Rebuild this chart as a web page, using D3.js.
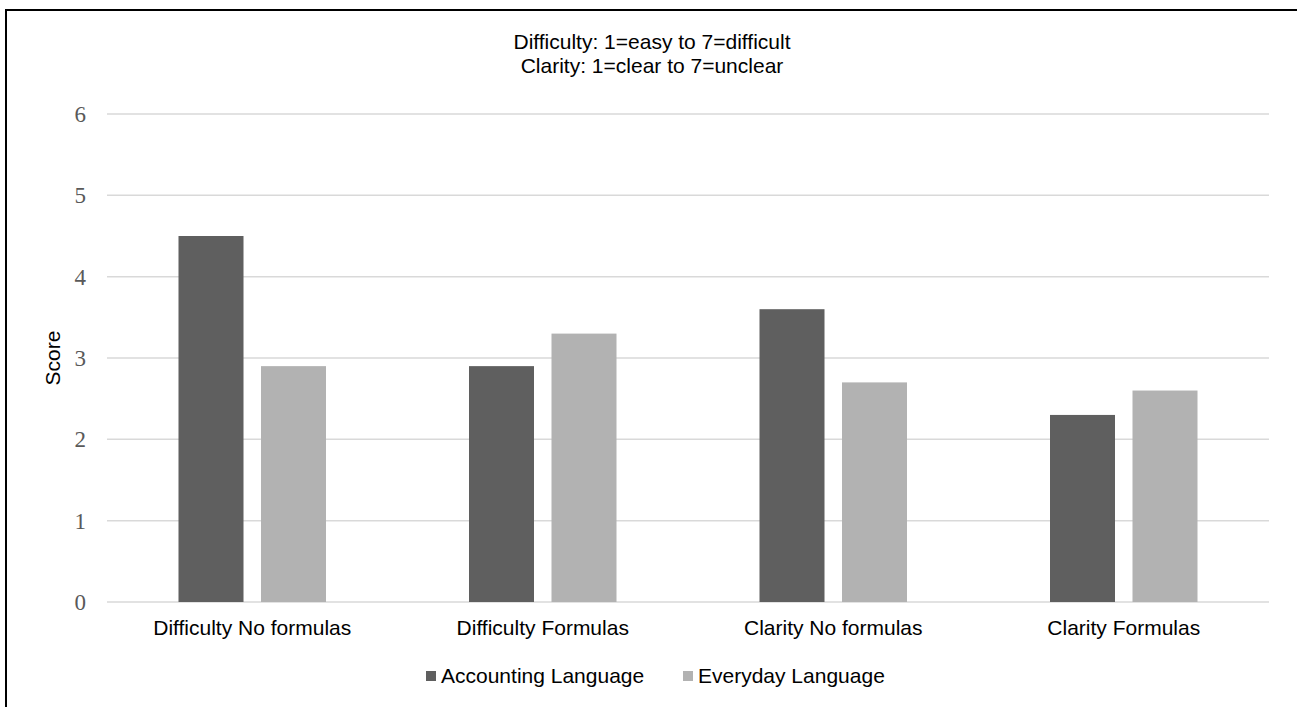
<!DOCTYPE html>
<meta charset="utf-8">
<head>
    <style>
        body { margin: 0; background: #fff; }
        svg { display: block; }
    </style>
    <script src="https://cdn.jsdelivr.net/npm/d3@7"></script>
</head>
<body></body>
<script>

    var categories = ["Difficulty No formulas", "Difficulty Formulas", "Clarity No formulas", "Clarity Formulas"],
        seriesNames = ["Accounting Language", "Everyday Language"],
        accounting = [4.5, 2.9, 3.6, 2.3],
        everyday = [2.9, 3.3, 2.7, 2.6],
        yTicks = [0, 1, 2, 3, 4, 5, 6],
        titleLines = ["Difficulty: 1=easy to 7=difficult", "Clarity: 1=clear to 7=unclear"],
        colors = ["#5f5f5f", "#b2b2b2"];

    var width = 1297, height = 707,
        sans = "'Liberation Sans', Arial, sans-serif";

    var svg = d3.select("body").append("svg")
        .attr("width", width)
        .attr("height", height);

    // frame (only top and left edges show in the picture)
    svg.append("path")
        .attr("d", "M6," + height + "V10H" + width)
        .attr("fill", "none")
        .attr("stroke", "#000")
        .attr("stroke-width", 2);

    var x0 = d3.scaleBand().domain(categories).range([107, 1269]),
        y = d3.scaleLinear().domain([0, 6]).range([602, 114]);

    // bar width and gap inside each band
    var barW = 65, gap = 17.5;

    // gridlines
    svg.selectAll("line.grid")
      .data(yTicks)
        .enter().append("line")
        .attr("class", "grid")
        .attr("x1", x0.range()[0])
        .attr("x2", x0.range()[1])
        .attr("y1", function(d) { return y(d); })
        .attr("y2", function(d) { return y(d); })
        .attr("stroke", "#d9d9d9")
        .attr("stroke-width", 1.5);

    // y tick labels
    svg.selectAll("text.ytick")
      .data(yTicks)
        .enter().append("text")
        .attr("class", "ytick")
        .attr("x", 86)
        .attr("y", function(d) { return y(d); })
        .attr("dy", "0.35em")
        .attr("text-anchor", "end")
        .style("font-family", "'Liberation Serif', 'DejaVu Serif', serif")
        .style("font-size", "23px")
        .style("fill", "#595959")
        .text(function(d) { return d; });

    // bars
    var rows = categories.map(function(c, i) { return {cat: c, vals: [accounting[i], everyday[i]]}; });

    var groups = svg.selectAll("g.group")
      .data(rows)
        .enter().append("g")
        .attr("class", "group")
        .attr("transform", function(d) { return "translate(" + (x0(d.cat) + x0.bandwidth() / 2) + ",0)"; });

    groups.selectAll("rect")
      .data(function(d) { return d.vals; })
        .enter().append("rect")
        .attr("x", function(d, i) { return i === 0 ? -gap / 2 - barW : gap / 2; })
        .attr("width", barW)
        .attr("y", function(d) { return y(d); })
        .attr("height", function(d) { return y(0) - y(d); })
        .attr("fill", function(d, i) { return colors[i]; });

    // category labels
    svg.selectAll("text.xlab")
      .data(categories)
        .enter().append("text")
        .attr("class", "xlab")
        .attr("x", function(d) { return x0(d) + x0.bandwidth() / 2; })
        .attr("y", 635)
        .attr("text-anchor", "middle")
        .style("font-family", sans)
        .style("font-size", "21px")
        .style("fill", "#000")
        .text(function(d) { return d; });

    // title
    svg.selectAll("text.title")
      .data(titleLines)
        .enter().append("text")
        .attr("class", "title")
        .attr("x", 652)
        .attr("y", function(d, i) { return 49 + i * 24; })
        .attr("text-anchor", "middle")
        .style("font-family", sans)
        .style("font-size", "21px")
        .style("fill", "#000")
        .text(function(d) { return d; });

    // y axis title
    svg.append("text")
        .attr("transform", "translate(60,358) rotate(-90)")
        .attr("text-anchor", "middle")
        .style("font-family", sans)
        .style("font-size", "21px")
        .style("fill", "#000")
        .text("Score");

    // legend
    var legendX = [426, 683];
    var legend = svg.selectAll("g.legend")
      .data(seriesNames)
        .enter().append("g")
        .attr("class", "legend")
        .attr("transform", function(d, i) { return "translate(" + legendX[i] + ",683)"; });

    legend.append("rect")
        .attr("x", 0)
        .attr("y", -12)
        .attr("width", 10)
        .attr("height", 10)
        .attr("fill", function(d, i) { return colors[i]; });

    legend.append("text")
        .attr("x", 15)
        .style("font-family", sans)
        .style("font-size", "21px")
        .style("fill", "#000")
        .text(function(d) { return d; });

</script>
